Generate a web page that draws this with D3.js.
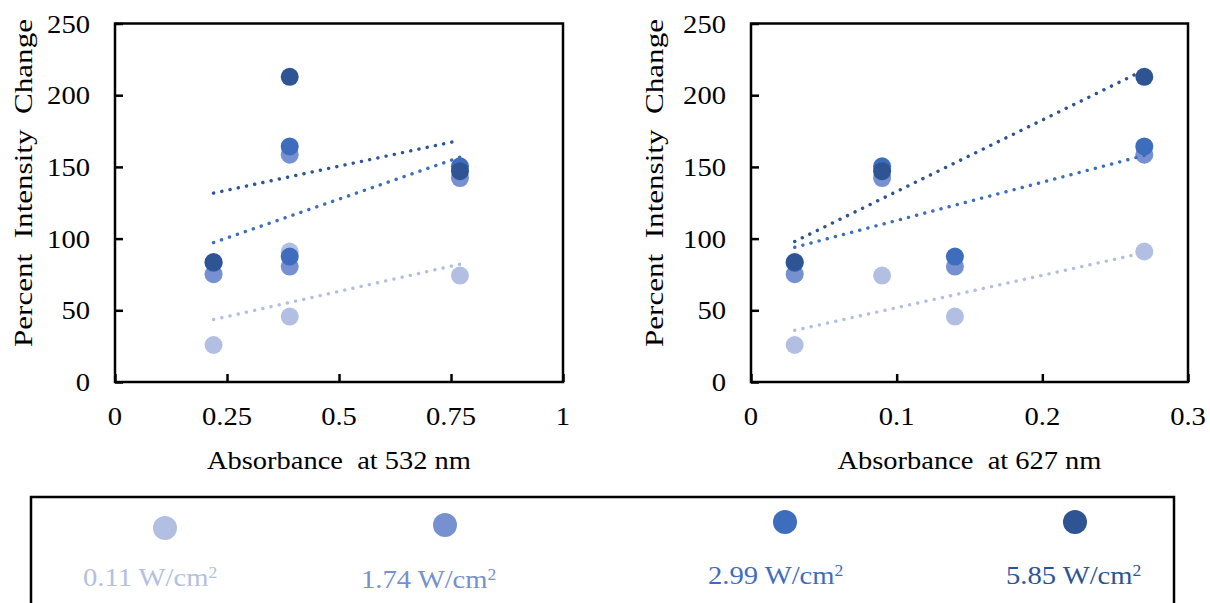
<!DOCTYPE html>
<html>
<head>
<meta charset="utf-8">
<script src="https://cdn.jsdelivr.net/npm/d3@7"></script>
<style>
  html, body { margin: 0; padding: 0; background: #fff; }
  svg text { font-family: "Liberation Serif", "Times New Roman", serif; white-space: pre; }
</style>
</head>
<body>
<svg id="chart" width="1210" height="603"></svg>
<script>
// Absorbance of each of the four samples at the two wavelengths
const abs532 = [0.22, 0.39, 0.77, 0.39];
const abs627 = [0.03, 0.14, 0.09, 0.27];

// Percent intensity change per sample, one list per irradiance
const intensities = ["0.11", "1.74", "2.99", "5.85"];
const change011 = [25.8, 45.6, 74.2, 91.0];
const change174 = [75.2, 80.5, 142.2, 158.5];
const change299 = [83.0, 87.5, 150.4, 164.3];
const change585 = [83.6, null, 147.0, 212.8];

// Series that carry a linear trendline
const trendSeries = ["0.11", "2.99", "5.85"];

// Axis ticks
const yTicks = [0, 50, 100, 150, 200, 250];
const xTicks532 = [0, 0.25, 0.5, 0.75, 1];
const xTicks627 = [0, 0.1, 0.2, 0.3];

const colors = { "0.11": "#b3bfe2", "1.74": "#7690d0", "2.99": "#3f6dbe", "5.85": "#2e5494" };
const seriesValues = { "0.11": change011, "1.74": change174, "2.99": change299, "5.85": change585 };

const svg = d3.select("#chart");
const FONT = 26, STRETCH = 1.1;

function label(g, x, y, txt, anchor) {
  return g.append("text")
    .attr("transform", `translate(${x},${y}) scale(${STRETCH},1)`)
    .attr("text-anchor", anchor)
    .attr("font-size", FONT)
    .attr("fill", "#000")
    .text(txt);
}

function title(g, x, y, txt, len, rotate) {
  return g.append("text")
    .attr("transform", `translate(${x},${y})` + (rotate ? " rotate(-90)" : ""))
    .attr("text-anchor", "middle")
    .attr("font-size", FONT)
    .attr("fill", "#000")
    .attr("textLength", len)
    .attr("lengthAdjust", "spacingAndGlyphs")
    .text(txt);
}

function linearFit(xs, ys) {
  const pts = xs.map((x, i) => [x, ys[i]]).filter(p => p[1] != null);
  const mx = d3.mean(pts, p => p[0]), my = d3.mean(pts, p => p[1]);
  const sxy = d3.sum(pts, p => (p[0] - mx) * (p[1] - my));
  const sxx = d3.sum(pts, p => (p[0] - mx) ** 2);
  const slope = sxy / sxx, icpt = my - slope * mx;
  const [lo, hi] = d3.extent(pts, p => p[0]);
  return [[lo, icpt + slope * lo], [hi, icpt + slope * hi]];
}

function panel(opts) {
  const { left, right, top, bottom, xs, xDomain, xTicks, xTitle, yTitleX, yTitleY } = opts;
  const x = d3.scaleLinear().domain(xDomain).range([left, right]);
  const y = d3.scaleLinear().domain([0, 250]).range([bottom, top]);
  const g = svg.append("g");

  // inward ticks
  const ya = g.append("g").attr("transform", `translate(${left},0)`)
    .call(d3.axisLeft(y).tickValues(yTicks).tickSize(-8).tickFormat(""));
  const xa = g.append("g").attr("transform", `translate(0,${bottom})`)
    .call(d3.axisBottom(x).tickValues(xTicks).tickSize(-8).tickFormat(""));
  [ya, xa].forEach(a => {
    a.select(".domain").remove();
    a.selectAll(".tick line").attr("stroke", "#000").attr("stroke-width", 2.5);
  });

  // tick labels
  yTicks.forEach(v => label(g, left - 25, y(v) + 9, String(v), "end"));
  xTicks.forEach(v => label(g, x(v), bottom + 43, String(v), "middle"));

  // frame
  g.append("rect").attr("x", left).attr("y", top)
    .attr("width", right - left).attr("height", bottom - top)
    .attr("fill", "none").attr("stroke", "#000").attr("stroke-width", 2.5);

  // points
  intensities.forEach(k => {
    const vals = seriesValues[k];
    g.append("g").selectAll("circle")
      .data(xs.map((xv, i) => [xv, vals[i]]).filter(d => d[1] != null))
      .join("circle")
      .attr("cx", d => x(d[0])).attr("cy", d => y(d[1]))
      .attr("r", 9).attr("fill", colors[k]);
  });

  // dotted linear trendlines
  const line = d3.line().x(d => x(d[0])).y(d => y(d[1]));
  trendSeries.forEach(k => {
    g.append("path").attr("d", line(linearFit(xs, seriesValues[k])))
      .attr("fill", "none").attr("stroke", colors[k])
      .attr("stroke-width", 3.4).attr("stroke-linecap", "round")
      .attr("stroke-dasharray", "0.1 8.3");
  });

  // axis titles
  title(g, (left + right) / 2, bottom + 87, xTitle, 264);
  title(g, yTitleX, yTitleY, "Percent  Intensity  Change", 328, true);
}

panel({ left: 115, right: 563, top: 23.5, bottom: 382, xs: abs532, xDomain: [0, 1],
  xTicks: xTicks532, xTitle: "Absorbance  at 532 nm", yTitleX: 32, yTitleY: 183 });
panel({ left: 751, right: 1188, top: 23.5, bottom: 382, xs: abs627, xDomain: [0, 0.3],
  xTicks: xTicks627, xTitle: "Absorbance  at 627 nm", yTitleX: 663, yTitleY: 183 });

// legend
const leg = svg.append("g");
leg.append("rect").attr("x", 31).attr("y", 497).attr("width", 1143).attr("height", 160)
  .attr("fill", "none").attr("stroke", "#000").attr("stroke-width", 2.5);
const legMarkerX = [165, 445, 785, 1075], legMarkerY = [528, 525, 522, 522];
const legTextX = [83, 361, 708, 1006], legTextY = [586, 588, 584, 584];
intensities.forEach((k, i) => {
  leg.append("circle").attr("cx", legMarkerX[i]).attr("cy", legMarkerY[i])
    .attr("r", 12).attr("fill", colors[k]);
  const t = leg.append("text")
    .attr("transform", `translate(${legTextX[i]},${legTextY[i]}) scale(${STRETCH},1)`)
    .attr("font-size", FONT).attr("fill", colors[k]);
  t.append("tspan").text(`${k} W/cm`);
  t.append("tspan").attr("font-size", 16).attr("dy", -8).text("2");
});
</script>
</body>
</html>
